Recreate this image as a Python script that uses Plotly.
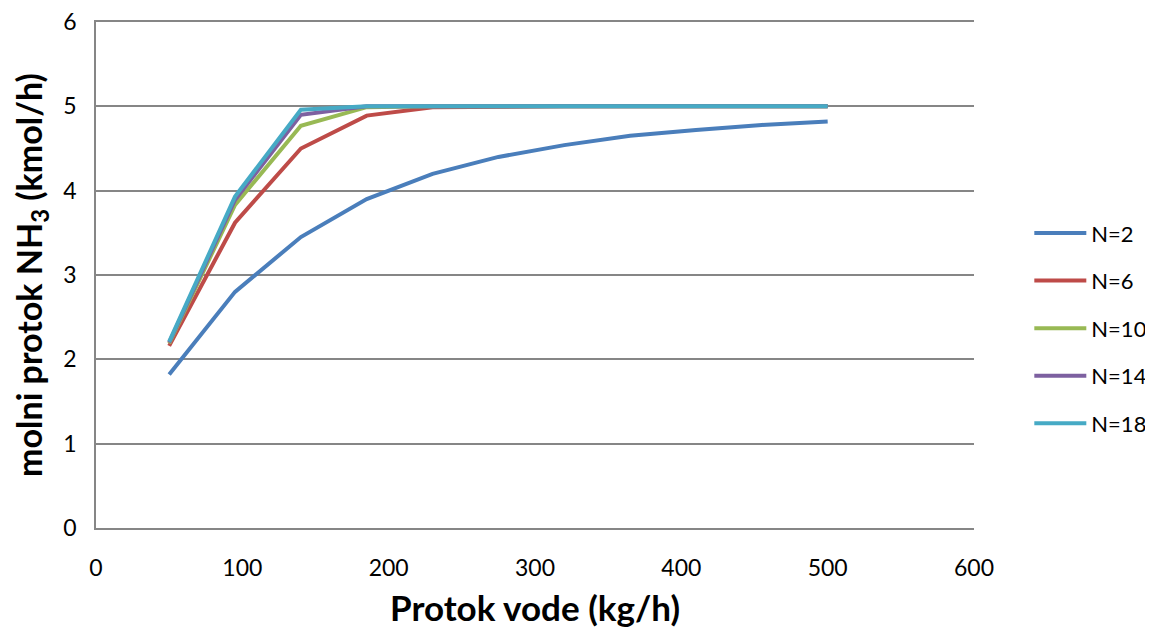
import plotly.graph_objects as go

flow = [50, 95, 140, 185, 230, 275, 320, 365, 410, 455, 500]
series_names = ["N=2", "N=6", "N=10", "N=14", "N=18"]
n2 = [1.82, 2.80, 3.45, 3.90, 4.20, 4.40, 4.54, 4.65, 4.72, 4.78, 4.82]
n6 = [2.16, 3.62, 4.50, 4.89, 4.99, 5.00, 5.00, 5.00, 5.00, 5.00, 5.00]
n10 = [2.19, 3.83, 4.77, 4.99, 5.00, 5.00, 5.00, 5.00, 5.00, 5.00, 5.00]
n14 = [2.20, 3.89, 4.90, 5.00, 5.00, 5.00, 5.00, 5.00, 5.00, 5.00, 5.00]
n18 = [2.21, 3.93, 4.96, 5.00, 5.00, 5.00, 5.00, 5.00, 5.00, 5.00, 5.00]
colors = ["#4A7EBB", "#BE4B48", "#98B954", "#7D60A0", "#46AAC5"]

FONT = "Lato"
fig = go.Figure()
for name, ys, c in zip(series_names, [n2, n6, n10, n14, n18], colors):
    fig.add_trace(go.Scatter(x=flow, y=ys, name=name, mode="lines", legendgroup=name,
                             line=dict(color=c, width=4)))

fig.update_layout(
    width=1145, height=620,
    margin=dict(l=88, r=179, t=14, b=100, autoexpand=False),
    paper_bgcolor="white", plot_bgcolor="white",
    font=dict(family=FONT, color="black", size=23),
    legend=dict(x=1.063, y=0.395, xanchor="left", yanchor="middle",
                font=dict(size=22), tracegroupgap=16, itemwidth=52,
                bgcolor="rgba(0,0,0,0)", borderwidth=0),
    xaxis=dict(range=[0, 600], dtick=100, showgrid=False, zeroline=False,
               showline=True, mirror=True, linecolor="#868686", linewidth=1.5,
               ticks="", ticklabelstandoff=19, automargin=False,
               title=dict(text="<b>Protok vode (kg/h)</b>", font=dict(size=35), standoff=20)),
    yaxis=dict(range=[0, 6], dtick=1, showgrid=True, gridcolor="#868686", gridwidth=1.5,
               zeroline=False, showline=True, linecolor="#868686", linewidth=1.5,
               ticks="", ticklabelstandoff=13, automargin=False, ticklabeloverflow="allow",
               title=dict(text="<b>molni protok NH<sub>3</sub> (kmol/h)</b>", font=dict(size=34), standoff=14)),
)
fig.write_html("out.html")
